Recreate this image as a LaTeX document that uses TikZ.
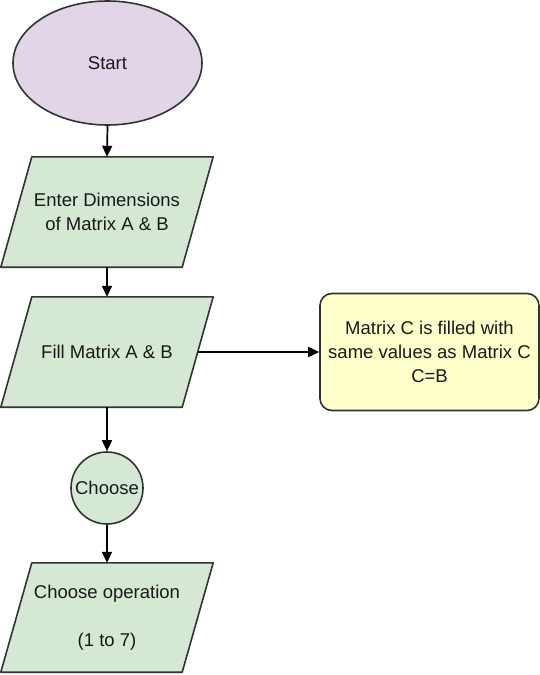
\documentclass[tikz,border=0pt]{standalone}
\usepackage{fontspec}
\setmainfont{Liberation Sans}
\usetikzlibrary{calc,arrows.meta}
\definecolor{purplefill}{HTML}{E1D5E7}
\definecolor{greenfill}{HTML}{D5E8D4}
\definecolor{yellowfill}{HTML}{FFFFCC}
\definecolor{edge}{HTML}{333333}
\tikzset{
  txt/.style={font=\fontsize{18.5}{24}\selectfont, text=black!90, align=center, inner sep=0pt},
  parabox/.style={txt, minimum width=212pt, minimum height=110pt},
  paraline/.style={draw=edge, fill=greenfill, line width=1.6pt, line join=round},
  arr/.style={draw=black, line width=1.7pt, -{Triangle[length=11pt,width=10pt]}},
}
\begin{document}
\begin{tikzpicture}[x=1pt,y=-1pt]
\useasboundingbox (0,0) rectangle (540,675);

% Start ellipse
\draw[draw=edge, fill=purplefill, line width=1.6pt] (107.5,63) ellipse [x radius=94.5, y radius=62];
\node[txt, minimum width=189pt, minimum height=124pt] (start) at (107.5,63) {Start};

% Parallelogram 1
\node[parabox] (enter) at (107,212) {};
\draw[paraline] ($(enter.north west)+(31,0)$) -- (enter.north east) -- ($(enter.south east)+(-31,0)$) -- (enter.south west) -- cycle;
\node[txt] at (enter.center) {Enter Dimensions\\of Matrix A \& B};

% Parallelogram 2
\node[parabox] (fill) at (107,352) {};
\draw[paraline] ($(fill.north west)+(31,0)$) -- (fill.north east) -- ($(fill.south east)+(-31,0)$) -- (fill.south west) -- cycle;
\node[txt] at (fill.center) {Fill Matrix A \& B};
\coordinate (fillR) at ($(fill.east)+(-15.5,0)$);

% Yellow box
\node[txt, draw=edge, fill=yellowfill, line width=1.6pt, rounded corners=12pt,
      minimum width=219pt, minimum height=117pt] (cbox) at (429.5,352)
  {Matrix C is filled with\\same values as Matrix C\\C=B};

% Circle
\node[txt, circle, draw=edge, fill=greenfill, line width=1.6pt, minimum size=72pt] (choose) at (107,488) {Choose};

% Parallelogram 3
\node[parabox, minimum height=109pt] (op) at (107,617.5) {};
\draw[paraline] ($(op.north west)+(31,0)$) -- (op.north east) -- ($(op.south east)+(-31,0)$) -- (op.south west) -- cycle;
\node[txt] at (op.center) {Choose operation\\\mbox{}\\(1 to 7)};

% Connectors
\draw[arr] (start.south) -- (enter.north);
\draw[arr] (enter.south) -- (fill.north);
\draw[arr] (fillR) -- (cbox.west);
\draw[arr] (fill.south) -- (choose.north);
\draw[arr] (choose.south) -- (op.north);
\end{tikzpicture}
\end{document}
